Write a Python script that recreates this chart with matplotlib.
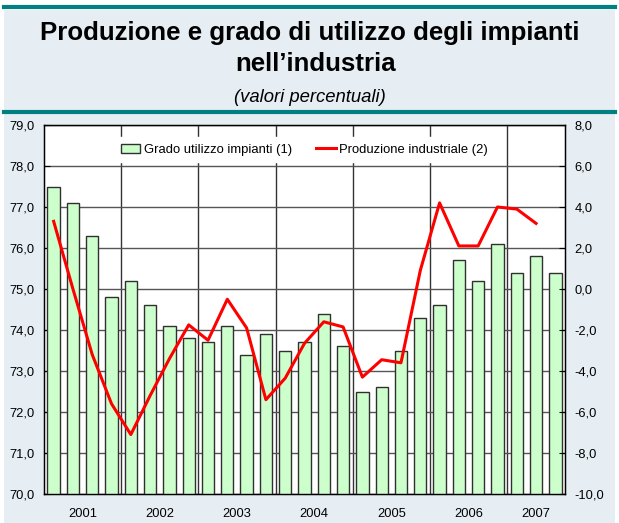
import matplotlib
matplotlib.use("Agg")
import matplotlib.pyplot as plt
from matplotlib.patches import Rectangle
from matplotlib.lines import Line2D
from matplotlib.ticker import FuncFormatter, MultipleLocator

plt.rcParams['font.family'] = ['Liberation Sans', 'DejaVu Sans']

years = ["2001", "2002", "2003", "2004", "2005", "2006", "2007"]
utilizzo = [77.5, 77.1, 76.3, 74.8,
            75.2, 74.6, 74.1, 73.8,
            73.7, 74.1, 73.4, 73.9,
            73.5, 73.7, 74.4, 73.6,
            72.5, 72.6, 73.5, 74.3,
            74.6, 75.7, 75.2, 76.1,
            75.4, 75.8, 75.4]
produzione = [3.3, 0.0, -3.2, -5.6,
              -7.1, -5.2, -3.4, -1.75,
              -2.5, -0.5, -1.9, -5.4,
              -4.35, -2.65, -1.6, -1.85,
              -4.3, -3.45, -3.6, 0.9,
              4.2, 2.1, 2.1, 4.0,
              3.9, 3.2]
label_bars = "Grado utilizzo impianti (1)"
label_line = "Produzione industriale (2)"
title_l1 = "Produzione e grado di utilizzo degli impianti"
title_l2 = "nell\u2019industria"
subtitle = "(valori percentuali)"

W, H = 619, 523
fig = plt.figure(figsize=(W / 100, H / 100), dpi=100)
fig.patch.set_facecolor("white")

def fx(px):
    return px / W

def fy(py):
    return 1 - py / H

# background panel
bg = Rectangle((fx(4), 0), fx(611), fy(10), transform=fig.transFigure,
               facecolor="#E6EEF4", edgecolor="none", zorder=-10)
fig.add_artist(bg)
teal = "#008080"
for yy in (7, 112):
    fig.add_artist(Line2D([fx(4), fx(615)], [fy(yy), fy(yy)], transform=fig.transFigure,
                          color=teal, lw=3, zorder=-5))

fig.text(fx(310), fy(33), title_l1, ha="center", va="center", fontsize=18.6,
         fontweight="bold", color="black")
fig.text(fx(316), fy(64), title_l2, ha="center", va="center", fontsize=18.6,
         fontweight="bold", color="black")
fig.text(fx(310), fy(97), subtitle, ha="center", va="center", fontsize=13.3,
         style="italic", color="black")

left, right, top, bottom = 44, 565, 125, 494
ax = fig.add_axes([fx(left), fy(bottom), fx(right - left), (bottom - top) / H])
ax.set_facecolor("white")

n = len(utilizzo)
x = list(range(n))
ax.bar(x, [v - 70 for v in utilizzo], bottom=70, width=0.64, color="#CCFFCC",
       edgecolor="#303030", linewidth=1.0, zorder=3, label=label_bars)
ax.set_xlim(-0.5, n - 0.5)
ax.set_ylim(70, 79)
ax.yaxis.set_major_locator(MultipleLocator(1))
fmt = FuncFormatter(lambda v, p: f"{v:.1f}".replace(".", ","))
ax.yaxis.set_major_formatter(fmt)
ax.tick_params(axis="y", labelsize=9.3, length=4, direction="in", pad=7)
ax.grid(axis="y", color="#555555", lw=1.0, zorder=1)

# year labels at centre of each year group
centers = []
for i, yname in enumerate(years):
    start = i * 4
    end = min(start + 4, n)
    centers.append((start + end - 1) / 2)
ax.set_xticks(centers)
ax.set_xticklabels(years, fontsize=9.3)
ax.tick_params(axis="x", length=0, pad=10)
for i in range(1, len(years)):
    ax.axvline(i * 4 - 0.5, color="#333333", lw=1.0, zorder=1)

for s in ax.spines.values():
    s.set_color("black")
    s.set_linewidth(1.0)

ax2 = ax.twinx()
ax2.plot(list(range(len(produzione))), produzione, color="#FF0000", lw=2.2, zorder=4,
         label=label_line)
ax2.set_ylim(-10, 8)
ax2.yaxis.set_major_locator(MultipleLocator(2))
ax2.yaxis.set_major_formatter(fmt)
ax2.tick_params(axis="y", labelsize=9.3, length=4, direction="in", pad=7)

h1, l1 = ax.get_legend_handles_labels()
h2, l2 = ax2.get_legend_handles_labels()
leg = ax2.legend(h1 + h2, l1 + l2, ncol=2, loc="upper center",
                 bbox_to_anchor=(0.5, 0.985), fontsize=9.4, frameon=True,
                 fancybox=False, edgecolor="white", facecolor="white", framealpha=1,
                 handlelength=1.5, handleheight=0.7, columnspacing=1.8,
                 handletextpad=0.3, borderpad=0.5)
leg.set_zorder(5)

fig.savefig("out.png", dpi=100, facecolor=fig.get_facecolor())
